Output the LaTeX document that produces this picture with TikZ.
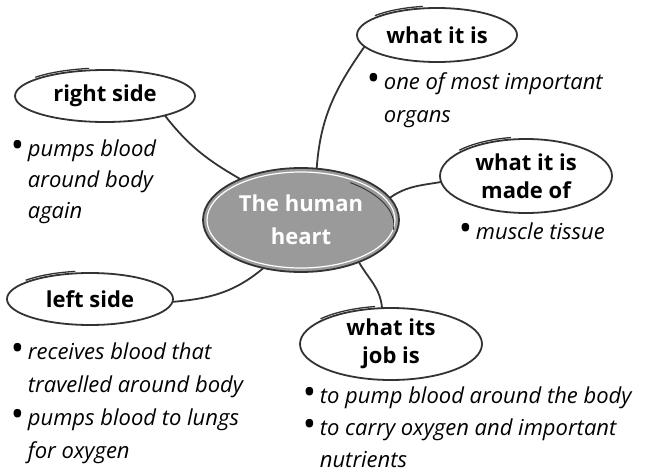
\documentclass[tikz,border=0pt]{standalone}
\usepackage{fontspec}
\usepackage{graphicx}
\setmainfont{Open Sans}
\usetikzlibrary{shapes.geometric, positioning}
\definecolor{cink}{HTML}{333333}
\definecolor{cheart}{HTML}{9A9A9A}
\tikzset{
  every picture/.style={line width=1.8pt},
  topic/.style={ellipse, draw=cink, fill=white, align=center, inner sep=0pt, outer sep=0pt,
    font=\fontsize{22}{28}\selectfont\bfseries},
  hub/.style={topic, fill=cheart, text=white, font=\fontsize{22}{33}\selectfont\bfseries},
  link/.style={draw=cink, line width=1.8pt},
  note/.style={anchor=north west, align=left, inner sep=0pt, font=\fontsize{22}{33}\selectfont\itshape},
}
\newcommand{\bul}{\makebox[17pt][l]{\upshape\raisebox{-1pt}{\scalebox{1.6}{\textbullet}}}}
\newcommand{\ind}{\hspace*{17pt}}

\begin{document}
\begin{tikzpicture}[x=1pt, y=1pt]
  \useasboundingbox (0,0) rectangle (646,-474);
  % centre
  \node[hub, minimum width=196, minimum height=104] (heart) at (301,-220) {The human\\heart};
  \draw[white, line width=1.2pt] (heart.center) ellipse[x radius=94, y radius=48];
  \draw[link, line width=0.9pt, rotate around={-4:(heart.center)}]
    ([shift={(-4:93 and 47)}]heart.center) arc[start angle=-4, end angle=60, x radius=93, y radius=47];
  % topics
  \node[topic, minimum width=160, minimum height=54] (what) at (437,-35) {what it is};
  \node[topic, minimum width=180, minimum height=52] (right) at (105,-96) {right side};
  \node[topic, minimum width=172, minimum height=74] (made) at (526,-176) {what it is\\made of};
  \node[topic, minimum width=166, minimum height=52] (left) at (90,-299) {left side};
  \node[topic, minimum width=182, minimum height=72] (job) at (391,-344) {what its\\job is};
  % sketchy overlap strokes
  \foreach \n/\rx/\ry in {what/80/27, right/90/26, made/86/37, left/83/26, job/91/36} {
    \draw[link, line width=1.3pt] ([yshift=2pt]\n.center) ++(100:{\rx+1} and \ry)
      arc[start angle=100, end angle=140, x radius={\rx+1}, y radius=\ry];
  }
  % connectors
  \draw[link] (heart.73) to[out=86, in=235] (what.189);
  \draw[link] (right.342) to[out=-52, in=150] (heart.146);
  \draw[link] (heart.14) to[out=35, in=190] (made.184);
  \draw[link] (left.358) to[out=5, in=220] (heart.232);
  \draw[link] (heart.324) to[out=-60, in=95] (job.104);
  % notes
  \node[note] (whatnote) at (366,-72) {\bul one of most important\\\ind organs};
  \node[note, font=\fontsize{22}{31}\selectfont\itshape] (rightnote) at (10,-139)
    {\bul pumps blood\\\ind around body\\\ind again};
  \node[note] (madenote) at (458,-222) {\bul muscle tissue};
  \node[note] (leftnote) at (10,-342)
    {\bul receives blood that\\\ind travelled around body\\\bul pumps blood to lungs\\\ind for oxygen};
  \node[note, font=\fontsize{22}{32}\selectfont\itshape] (jobnote) at (302,-386)
    {\bul to pump blood around the body\\\bul to carry oxygen and important\\\ind nutrients};
\end{tikzpicture}
\end{document}
